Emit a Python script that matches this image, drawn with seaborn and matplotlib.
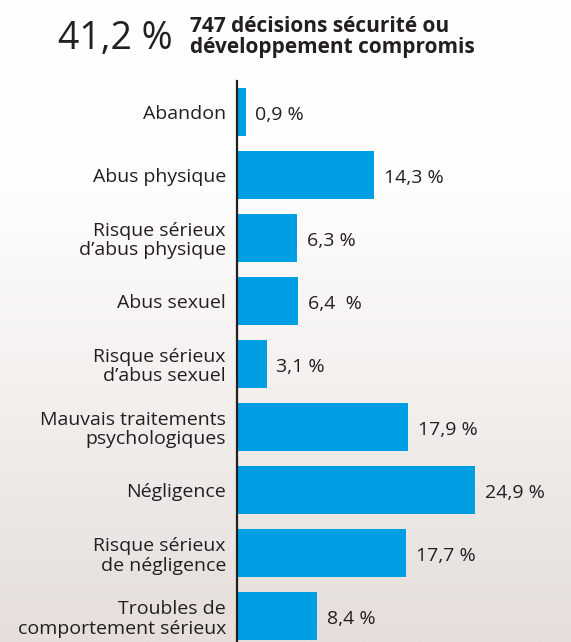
import numpy as np
import pandas as pd
import matplotlib
matplotlib.use("Agg")
import matplotlib.pyplot as plt
import seaborn as sns

categories = [
    "Abandon",
    "Abus physique",
    "Risque sérieux\nd’abus physique",
    "Abus sexuel",
    "Risque sérieux\nd’abus sexuel",
    "Mauvais traitements\npsychologiques",
    "Négligence",
    "Risque sérieux\nde négligence",
    "Troubles de\ncomportement sérieux",
]
values = [0.9, 14.3, 6.3, 6.4, 3.1, 17.9, 24.9, 17.7, 8.4]
value_labels = ["0,9 %", "14,3 %", "6,3 %", "6,4  %", "3,1 %",
                "17,9 %", "24,9 %", "17,7 %", "8,4 %"]

df = pd.DataFrame({"categorie": categories, "pourcentage": values})

sns.set_style("white")
plt.rcParams["font.family"] = ["Open Sans", "DejaVu Sans"]
txt = "#231f20"
blue = "#009fe3"

fig = plt.figure(figsize=(5.71, 6.42), dpi=100)

# fond : degrade blanc -> gris beige
bg = fig.add_axes([0, 0, 1, 1])
t = np.linspace(0, 1, 256)
stops = [0.0, 0.3, 0.58, 1.0]
grad = np.stack([
    np.interp(t, stops, [255, 254, 244, 229]),
    np.interp(t, stops, [255, 253, 241, 222]),
    np.interp(t, stops, [255, 253, 239, 219]),
], axis=1) / 255
bg.imshow(grad[:, None, :], aspect="auto", extent=[0, 1, 0, 1], origin="upper")
bg.axis("off")

ax = fig.add_axes([237 / 571, 0, 1 - 237 / 571, 1 - 81 / 642])
ax.patch.set_alpha(0)
sns.barplot(data=df, x="pourcentage", y="categorie", color=blue,
            saturation=1, width=0.76, linewidth=0, ax=ax)

ax.set_xlim(0, 334 / 9.57)
ax.set_ylim(8.41, -0.49)
anns = ax.bar_label(ax.containers[0], labels=value_labels, padding=7,
                    fontsize=14, color=txt)
for a in anns:
    a.xyann = (a.xyann[0], -2)

for s in ["top", "right", "bottom"]:
    ax.spines[s].set_visible(False)
ax.spines["left"].set_color(txt)
ax.spines["left"].set_linewidth(1.6)
ax.set_xticks([])
ax.set_xlabel("")
ax.set_ylabel("")
ax.tick_params(axis="y", length=0, pad=8, labelsize=14, colors=txt)
for lab in ax.get_yticklabels():
    lab.set_multialignment("right")
    lab.set_linespacing(1.1)

fig.text(58 / 571, 1 - 39 / 642, "41,2 %", fontsize=27, color=txt,
         va="center", ha="left")
fig.text(190 / 571, 1 - 37 / 642, "747 décisions sécurité ou\ndéveloppement compromis",
         fontsize=15, fontweight="bold", color=txt, va="center", ha="left",
         linespacing=0.98)

fig.savefig("out.png", dpi=100)
